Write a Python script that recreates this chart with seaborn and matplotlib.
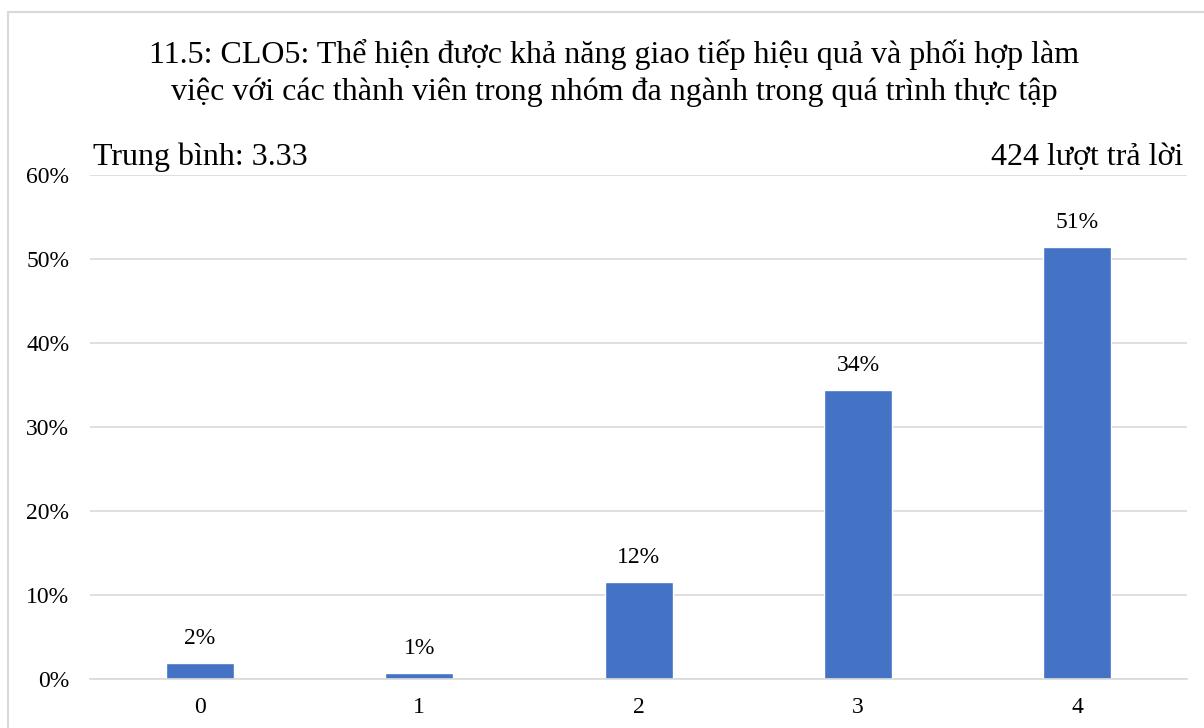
import matplotlib
matplotlib.use("Agg")
import matplotlib.pyplot as plt
import matplotlib.ticker as mtick
import pandas as pd
import seaborn as sns

# Data
levels = ["0", "1", "2", "3", "4"]
counts = [8, 3, 49, 146, 218]
total = 424
mean_score = 3.33
title = ("11.5: CLO5: Thể hiện được khả năng giao tiếp hiệu quả và phối hợp làm\n"
         "việc với các thành viên trong nhóm đa ngành trong quá trình thực tập")

df = pd.DataFrame({"Level": levels, "Count": counts})
df["Pct"] = df["Count"] / total

sns.set_theme(style="white")
plt.rcParams["font.family"] = ["Liberation Serif", "DejaVu Serif"]
plt.rcParams["text.color"] = "black"

fig = plt.figure(figsize=(12.04, 7.28), dpi=100)
ax = fig.add_axes([0.0748, 0.0673, 0.9112, 0.6923])

sns.barplot(data=df, x="Level", y="Pct", color="#4472C4", width=0.31,
            saturation=1, ax=ax)

ax.set_ylim(0, 0.6)
ax.set_yticks([0, 0.1, 0.2, 0.3, 0.4, 0.5, 0.6])
ax.yaxis.set_major_formatter(mtick.PercentFormatter(1.0, decimals=0))
ax.yaxis.grid(True, color="#d9d9d9", linewidth=1.2)
ax.set_axisbelow(True)
for s in ["top", "right", "left"]:
    ax.spines[s].set_visible(False)
ax.spines["bottom"].set_color("#d9d9d9")
ax.spines["bottom"].set_linewidth(1.2)
ax.set_xlabel("")
ax.set_ylabel("")
ax.tick_params(axis="both", length=0, labelsize=17, colors="black")
ax.tick_params(axis="y", pad=15)
ax.tick_params(axis="x", pad=13)

for p, v in zip(ax.patches, df["Pct"]):
    ax.annotate(f"{v:.0%}", (p.get_x() + p.get_width() / 2, p.get_height()),
                xytext=(0, 10), textcoords="offset points",
                ha="center", va="bottom", fontsize=17, color="black")

fig.text(0.51, 0.947, title, ha="center", va="top", fontsize=23,
         linespacing=1.35, color="black")
fig.text(0.077, 0.773, f"Trung bình: {mean_score:.2f}", ha="left",
         va="baseline", fontsize=23, color="black")
fig.text(0.983, 0.773, f"{total} lượt trả lời", ha="right",
         va="baseline", fontsize=23, color="black")

# light frame around the chart
fig.patches.append(plt.Rectangle((0.007, -0.05), 1.1, 1.033,
                                 transform=fig.transFigure, fill=False,
                                 edgecolor="#d9d9d9", linewidth=1.5))

fig.savefig("out.png", dpi=100)
plt.close(fig)
